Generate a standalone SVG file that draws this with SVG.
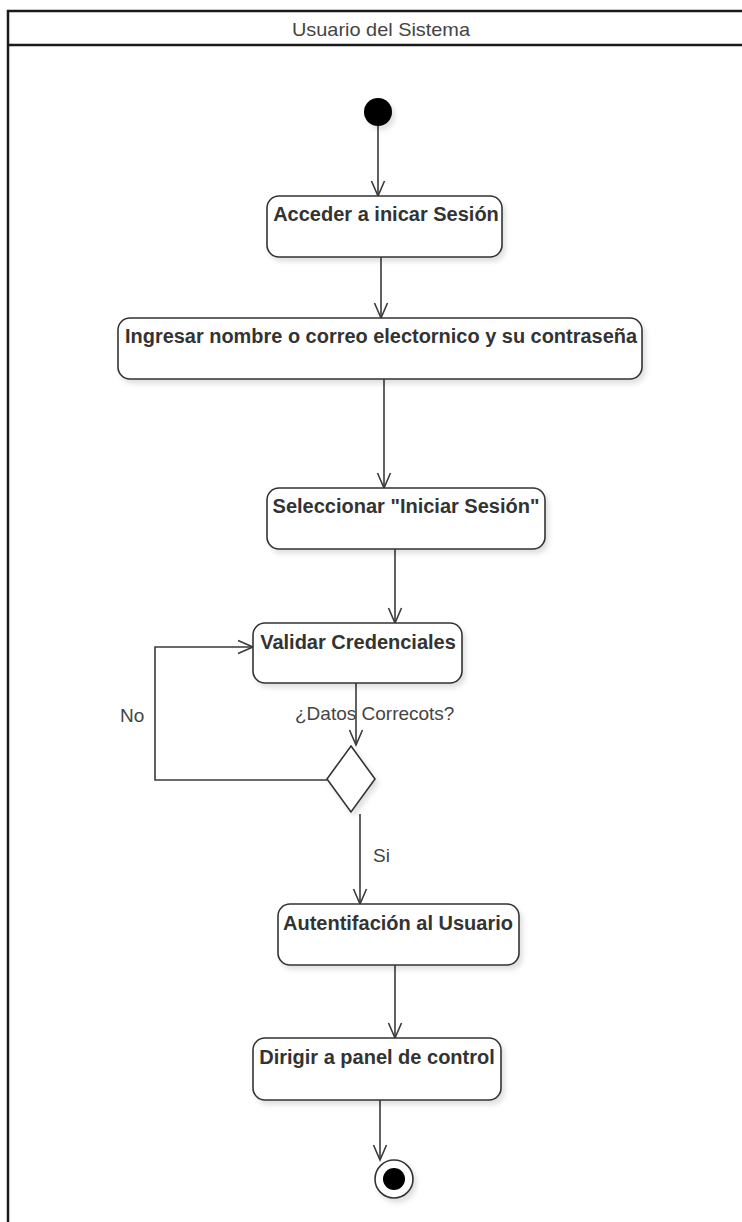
<svg xmlns="http://www.w3.org/2000/svg" width="742" height="1222" viewBox="0 0 742 1222">
  <defs>
    <style>
      .lane { fill: #ffffff; stroke: #1a1a1a; stroke-width: 2.5; }
      .act { fill: #ffffff; stroke: #333333; stroke-width: 1.6; filter: url(#shadow); }
      .lbl { font-family: "Liberation Sans", Arial, sans-serif; font-size: 20px; font-weight: bold; fill: #333333; text-anchor: middle; }
      .txt { font-family: "Liberation Sans", Arial, sans-serif; font-size: 19px; fill: #444444; }
      .edge { fill: none; stroke: #3a3a3a; stroke-width: 1.6; }
    </style>
    <filter id="shadow" x="-10%" y="-10%" width="130%" height="140%">
      <feDropShadow dx="3" dy="4" stdDeviation="2.5" flood-color="#000000" flood-opacity="0.12"/>
    </filter>
    <!-- open V arrowhead, tip at the line end -->
    <marker id="open" viewBox="-16 -9 18 18" refX="0" refY="0" markerWidth="18" markerHeight="18" markerUnits="userSpaceOnUse" orient="auto" overflow="visible">
      <path d="M -15,-6.5 L 0,0 L -15,6.5" fill="none" stroke="#3a3a3a" stroke-width="1.6"/>
    </marker>
  </defs>

  <!-- swimlane -->
  <g id="lane">
    <rect class="lane" x="8" y="11" width="770" height="1240"/>
    <line x1="8" y1="45" x2="742" y2="45" stroke="#1a1a1a" stroke-width="2.5"/>
    <text class="txt" x="381" y="36" text-anchor="middle" textLength="178" lengthAdjust="spacingAndGlyphs">Usuario del Sistema</text>
  </g>

  <!-- connectors -->
  <g id="connectors">
    <path class="edge" d="M378,126 L378,196" marker-end="url(#open)"/>
    <path class="edge" d="M381,257 L381,318" marker-end="url(#open)"/>
    <path class="edge" d="M384,379 L384,488" marker-end="url(#open)"/>
    <path class="edge" d="M395,549 L395,623" marker-end="url(#open)"/>
    <path class="edge" d="M356,683 L356,745" marker-end="url(#open)"/>
    <text class="txt" x="295" y="720">¿Datos Correcots?</text>
    <path class="edge" d="M327,780 L155,780 L155,647 L253,647" marker-end="url(#open)"/>
    <text class="txt" x="120" y="722">No</text>
    <path class="edge" d="M360,814 L360,904" marker-end="url(#open)"/>
    <text class="txt" x="373" y="862">Si</text>
    <path class="edge" d="M395,965 L395,1038" marker-end="url(#open)"/>
    <path class="edge" d="M380,1100 L380,1160" marker-end="url(#open)"/>
  </g>

  <!-- start -->
  <g id="start">
    <circle cx="378" cy="112" r="14" fill="#000000" filter="url(#shadow)"/>
  </g>

  <g id="acceder">
    <rect class="act" x="267" y="196" width="235" height="61" rx="12"/>
    <text class="lbl" x="386" y="221">Acceder a inicar Sesión</text>
  </g>

  <g id="ingresar">
    <rect class="act" x="118" y="318" width="524" height="61" rx="12"/>
    <text class="lbl" x="381" y="343" textLength="512" lengthAdjust="spacingAndGlyphs">Ingresar nombre o correo electornico y su contraseña</text>
  </g>

  <g id="seleccionar">
    <rect class="act" x="267" y="488" width="278" height="61" rx="12"/>
    <text class="lbl" x="406" y="513">Seleccionar "Iniciar Sesión"</text>
  </g>

  <g id="validar">
    <rect class="act" x="253" y="623" width="209" height="60" rx="12"/>
    <text class="lbl" x="358" y="649">Validar Credenciales</text>
  </g>

  <g id="decision">
    <polygon class="act" points="351,746 375,779 351,812 327,779"/>
  </g>

  <g id="autenticar">
    <rect class="act" x="278" y="904" width="241" height="61" rx="12"/>
    <text class="lbl" x="398" y="930">Autentifación al Usuario</text>
  </g>

  <g id="dirigir">
    <rect class="act" x="253" y="1038" width="248" height="62" rx="12"/>
    <text class="lbl" x="377" y="1064">Dirigir a panel de control</text>
  </g>

  <!-- end -->
  <g id="end">
    <circle cx="394" cy="1179" r="19" fill="#ffffff" stroke="#333333" stroke-width="1.6" filter="url(#shadow)"/>
    <circle cx="394" cy="1179" r="11" fill="#000000"/>
  </g>
</svg>
